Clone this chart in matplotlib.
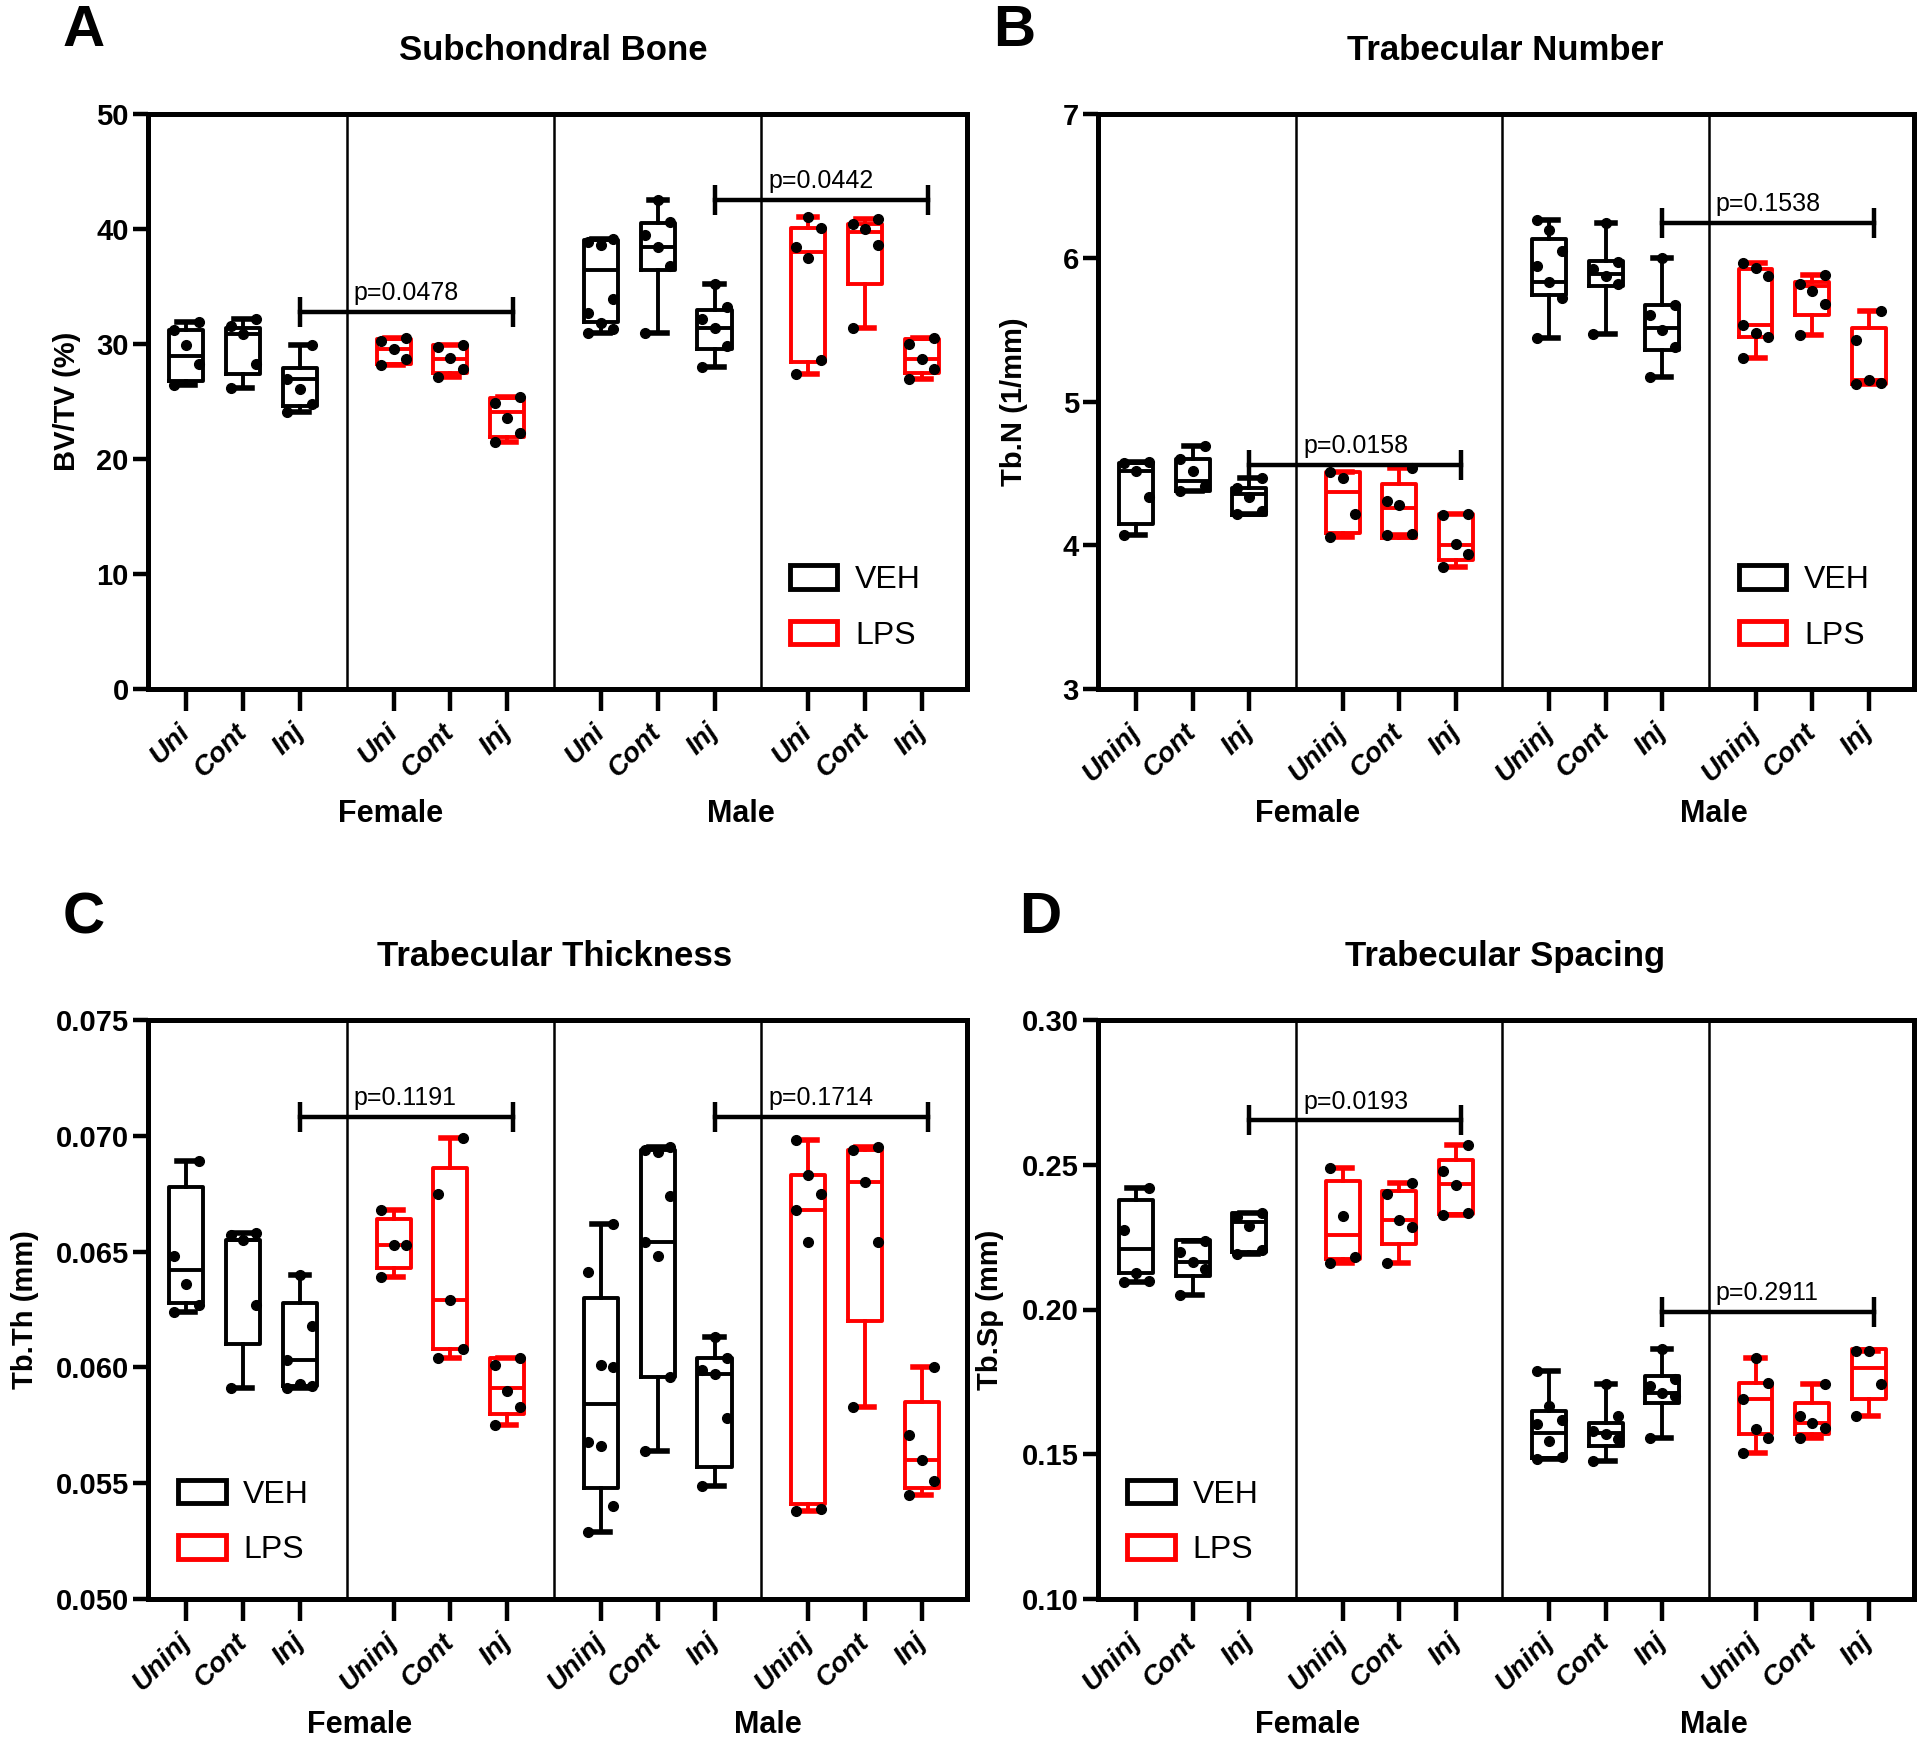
import numpy as np
import matplotlib
matplotlib.use("Agg")
import matplotlib.pyplot as plt
from matplotlib.patches import Patch

plt.rcParams["font.family"] = ["Liberation Sans", "DejaVu Sans"]

# --------------------DATA-------------------- #
# box order: Female VEH (Uni, Cont, Inj), Female LPS (...), Male VEH (...), Male LPS (...)

sexes = ["Female", "Male"]
treatments = ["VEH", "LPS"]
shortLabels = ["Uni", "Cont", "Inj"]
longLabels = ["Uninj", "Cont", "Inj"]

# BV/TV (%)
bvtvPoints = [
    [26.4, 28.3, 29.9, 31.2, 31.9], [26.2, 28.3, 30.9, 31.6, 32.2], [24.1, 24.8, 26.1, 27.0, 29.9],
    [28.2, 28.7, 29.6, 30.3, 30.5], [27.1, 27.8, 28.8, 29.7, 29.9], [21.5, 22.3, 23.6, 24.9, 25.4],
    [31.0, 31.3, 31.8, 32.7, 33.9, 38.6, 38.9, 39.1], [31.0, 36.8, 38.4, 39.5, 40.6, 42.5], [28.0, 29.8, 31.4, 32.2, 33.2, 35.2],
    [27.4, 28.6, 37.5, 38.4, 40.1, 41.0], [31.4, 38.6, 40.0, 40.4, 40.9], [27.0, 27.8, 28.7, 30.0, 30.5],
]
bvtvQ1 = [26.8, 27.4, 24.6, 28.3, 27.5, 21.9, 31.9, 36.4, 29.6, 28.4, 35.2, 27.5]
bvtvMed = [29.0, 30.9, 27.0, 29.6, 28.7, 24.1, 36.4, 38.4, 31.4, 38.0, 39.7, 28.7]
bvtvQ3 = [31.2, 31.4, 27.9, 30.4, 29.9, 25.3, 39.0, 40.5, 33.0, 40.1, 40.4, 30.4]
bvtvP = ["p=0.0478", "p=0.0442"]
bvtvPY = [32.8, 42.5]

# Tb.N (1/mm)
tbnPoints = [
    [4.07, 4.34, 4.52, 4.57, 4.58], [4.38, 4.41, 4.52, 4.60, 4.69], [4.22, 4.24, 4.34, 4.40, 4.47],
    [4.06, 4.22, 4.47, 4.51], [4.07, 4.08, 4.28, 4.31, 4.54], [3.85, 3.94, 4.01, 4.21, 4.22],
    [5.44, 5.72, 5.83, 5.94, 6.05, 6.19, 6.26], [5.47, 5.82, 5.87, 5.92, 5.97, 6.24], [5.17, 5.38, 5.50, 5.60, 5.67, 6.00],
    [5.30, 5.45, 5.48, 5.53, 5.87, 5.93, 5.96], [5.46, 5.68, 5.77, 5.82, 5.88], [5.12, 5.13, 5.15, 5.43, 5.63],
]
tbnQ1 = [4.15, 4.38, 4.21, 4.09, 4.05, 3.90, 5.74, 5.80, 5.36, 5.45, 5.60, 5.12]
tbnMed = [4.52, 4.45, 4.36, 4.37, 4.26, 4.00, 5.83, 5.89, 5.51, 5.53, 5.80, 5.15]
tbnQ3 = [4.57, 4.60, 4.40, 4.51, 4.43, 4.22, 6.13, 5.98, 5.67, 5.92, 5.83, 5.51]
tbnP = ["p=0.0158", "p=0.1538"]
tbnPY = [4.557, 6.243]

# Tb.Th (mm)
tbthPoints = [
    [0.0624, 0.0627, 0.0636, 0.0648, 0.0689], [0.0591, 0.0627, 0.0655, 0.0657, 0.0658], [0.0591, 0.0592, 0.0593, 0.0603, 0.0618, 0.0640],
    [0.0639, 0.0653, 0.0653, 0.0668], [0.0604, 0.0608, 0.0629, 0.0675, 0.0699], [0.0575, 0.0583, 0.0590, 0.0601, 0.0604],
    [0.0529, 0.0540, 0.0566, 0.0568, 0.0600, 0.0601, 0.0641, 0.0662], [0.0564, 0.0596, 0.0648, 0.0654, 0.0674, 0.0693, 0.0694, 0.0695],
    [0.0549, 0.0578, 0.0597, 0.0599, 0.0604, 0.0613],
    [0.0538, 0.0539, 0.0654, 0.0668, 0.0675, 0.0683, 0.0698], [0.0583, 0.0654, 0.0680, 0.0694, 0.0695], [0.0545, 0.0551, 0.0560, 0.0571, 0.0600],
]
tbthQ1 = [0.0628, 0.0610, 0.0592, 0.0643, 0.0608, 0.0580, 0.0548, 0.0596, 0.0557, 0.0541, 0.0620, 0.0548]
tbthMed = [0.0642, 0.0655, 0.0603, 0.0653, 0.0629, 0.0591, 0.0584, 0.0654, 0.0597, 0.0668, 0.0680, 0.0560]
tbthQ3 = [0.0678, 0.0655, 0.0628, 0.0664, 0.0686, 0.0604, 0.0630, 0.0694, 0.0604, 0.0683, 0.0694, 0.0585]
tbthP = ["p=0.1191", "p=0.1714"]
tbthPY = [0.0708, 0.0708]

# Tb.Sp (mm)
tbspPoints = [
    [0.2095, 0.2100, 0.2125, 0.2273, 0.2420], [0.2050, 0.2140, 0.2165, 0.2200, 0.2235], [0.2190, 0.2205, 0.2290, 0.2320, 0.2335],
    [0.2159, 0.2182, 0.2324, 0.2489], [0.2159, 0.2284, 0.2309, 0.2398, 0.2438], [0.2328, 0.2332, 0.2430, 0.2477, 0.2568],
    [0.1485, 0.1490, 0.1546, 0.1603, 0.1620, 0.1667, 0.1787], [0.1477, 0.1552, 0.1570, 0.1580, 0.1632, 0.1741], [0.1557, 0.1701, 0.1713, 0.1736, 0.1759, 0.1862],
    [0.1506, 0.1557, 0.1586, 0.1690, 0.1747, 0.1833], [0.1557, 0.1592, 0.1609, 0.1632, 0.1741], [0.1632, 0.1741, 0.1855, 0.1858],
]
tbspQ1 = [0.2125, 0.2114, 0.2199, 0.2176, 0.2227, 0.2330, 0.1488, 0.1529, 0.1678, 0.1569, 0.1569, 0.1690]
tbspMed = [0.2210, 0.2165, 0.2301, 0.2256, 0.2309, 0.2432, 0.1575, 0.1575, 0.1713, 0.1690, 0.1609, 0.1798]
tbspQ3 = [0.2377, 0.2239, 0.2335, 0.2443, 0.2409, 0.2517, 0.1649, 0.1609, 0.1770, 0.1747, 0.1678, 0.1862]
tbspP = ["p=0.0193", "p=0.2911"]
tbspPY = [0.2653, 0.199]

# --------------------LAYOUT-------------------- #

groupGap = 3.65
xPos = [g * groupGap + i for g in range(4) for i in range(3)]
colors = ["black", "#ff0000", "black", "#ff0000"]
dividers = [2.825, 6.475, 10.125]


def drawPanel(ax, points, q1, med, q3, ylim, yticks, yfmt, ylabel, tickLabels,
              pLabels, pY, sexX, legendAnchor, ylabelX):
    for i in range(12):
        c = colors[i // 3]
        stats = dict(med=med[i], q1=q1[i], q3=q3[i],
                     whislo=min(points[i]), whishi=max(points[i]))
        ax.bxp([stats], positions=[xPos[i]], widths=0.6, showfliers=False,
               capwidths=0.32,
               boxprops=dict(color=c, lw=2.8),
               medianprops=dict(color=c, lw=2.8),
               whiskerprops=dict(color=c, lw=2.8),
               capprops=dict(color=c, lw=4))
        # spread the dots across the box the way the prism scatter does
        pts = sorted(points[i])
        offsets = [(-0.22, 0.22, 0.0)[k % 3] for k in range(len(pts))]
        ax.plot([xPos[i] + o for o in offsets], pts, "o", color="black",
                markersize=7, zorder=5)

    for d in dividers:
        ax.axvline(d, color="black", lw=1.8, zorder=1)

    ax.set_xlim(-0.67, 13.75)
    ax.set_ylim(*ylim)
    ax.set_yticks(yticks)
    ax.set_yticklabels([yfmt.format(v) for v in yticks], fontsize=21, fontweight="bold")
    ax.set_xticks(xPos)
    ax.set_xticklabels(tickLabels * 4, fontsize=20, fontweight="bold", fontstyle="italic",
                       rotation=45, ha="right", va="center", rotation_mode="anchor")
    ax.tick_params(axis="x", length=16, width=3.2, pad=12)
    ax.tick_params(axis="y", length=11, width=3.2, pad=3)
    for s in ax.spines.values():
        s.set_linewidth(3.6)
    ax.set_ylabel(ylabel, fontsize=21, fontweight="bold")
    ax.yaxis.set_label_coords(ylabelX, 0.5)

    # sex labels under the tick labels
    for name, sx in zip(sexes, sexX):
        ax.text(sx, -0.217, name, transform=ax.get_xaxis_transform(),
                ha="center", va="center", fontsize=22, fontweight="bold")

    # p value brackets, Inj VEH vs Inj LPS
    for k in range(2):
        x0 = xPos[2 + 6 * k]
        x1 = xPos[5 + 6 * k] + 0.1
        ax.plot([x0, x1], [pY[k], pY[k]], color="black", lw=3.2, zorder=4)
        ax.plot([x0, x1], [pY[k], pY[k]], ls="none", marker="|", color="black",
                markersize=22, mew=3.2, zorder=4)
        ax.annotate(pLabels[k], (x0 + 0.95, pY[k]), xytext=(0, 5), textcoords="offset points",
                    ha="left", va="bottom", fontsize=18)

    handles = [Patch(facecolor="white", edgecolor=c, lw=3.5) for c in ["black", "#ff0000"]]
    ax.legend(handles, treatments, loc="upper left", bbox_to_anchor=legendAnchor,
              frameon=False, fontsize=23, handlelength=1.5, handleheight=0.75,
              handletextpad=0.55, labelspacing=0.8, borderpad=0, borderaxespad=0)


fig = plt.figure(figsize=(19.2, 17.46), dpi=100)

axA = fig.add_axes([0.0772, 0.6052, 0.4266, 0.3296])
axB = fig.add_axes([0.5721, 0.6052, 0.4247, 0.3296])
axC = fig.add_axes([0.0772, 0.0842, 0.4266, 0.3316])
axD = fig.add_axes([0.5721, 0.0842, 0.4247, 0.3316])

drawPanel(axA, bvtvPoints, bvtvQ1, bvtvMed, bvtvQ3, (0, 50), [0, 10, 20, 30, 40, 50], "{:.0f}",
          "BV/TV (%)", shortLabels, bvtvP, bvtvPY, [3.59, 9.76], (0.783, 0.216), -0.082)
drawPanel(axB, tbnPoints, tbnQ1, tbnMed, tbnQ3, (3, 7), [3, 4, 5, 6, 7], "{:.0f}",
          "Tb.N (1/mm)", longLabels, tbnP, tbnPY, [3.02, 10.22], (0.785, 0.216), -0.086)
drawPanel(axC, tbthPoints, tbthQ1, tbthMed, tbthQ3, (0.050, 0.075),
          [0.050, 0.055, 0.060, 0.065, 0.070, 0.075], "{:.3f}",
          "Tb.Th (mm)", longLabels, tbthP, tbthPY, [3.05, 10.24], (0.036, 0.206), -0.133)
drawPanel(axD, tbspPoints, tbspQ1, tbspMed, tbspQ3, (0.10, 0.30),
          [0.10, 0.15, 0.20, 0.25, 0.30], "{:.2f}",
          "Tb.Sp (mm)", longLabels, tbspP, tbspPY, [3.02, 10.22], (0.035, 0.206), -0.116)

# --------------------TITLES AND PANEL LETTERS-------------------- #

titles = ["Subchondral Bone", "Trabecular Number", "Trabecular Thickness", "Trabecular Spacing"]
titleXY = [(0.288, 0.971), (0.784, 0.971), (0.289, 0.452), (0.784, 0.452)]
letters = ["A", "B", "C", "D"]
letterXY = [(0.0434, 0.9825), (0.528, 0.9825), (0.0434, 0.474), (0.542, 0.474)]

for t, (tx, ty) in zip(titles, titleXY):
    fig.text(tx, ty, t, ha="center", va="center", fontsize=25, fontweight="bold")
for l, (lx, ly) in zip(letters, letterXY):
    fig.text(lx, ly, l, ha="center", va="center", fontsize=42, fontweight="bold")

fig.savefig("out.png", dpi=100)
